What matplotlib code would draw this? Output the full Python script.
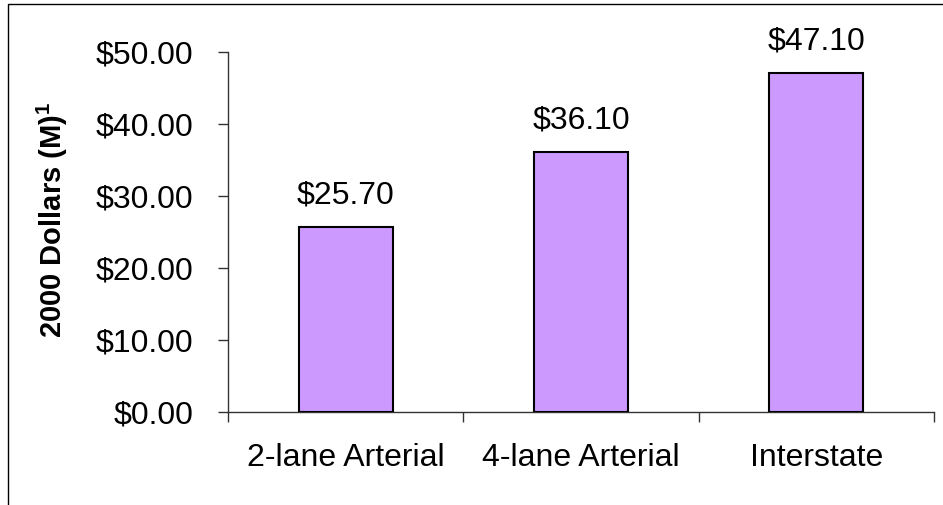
"""Bar chart: cost by road type, 2000 dollars (millions)."""

import matplotlib.pyplot as plt
from matplotlib.patches import Rectangle
from matplotlib.ticker import FixedLocator, FuncFormatter

plt.rcParams["font.family"] = ["Liberation Sans", "DejaVu Sans"]
plt.rcParams["mathtext.fontset"] = "custom"
plt.rcParams["mathtext.rm"] = "Liberation Sans"
plt.rcParams["mathtext.bf"] = "Liberation Sans:bold"

categories = ["2-lane Arterial", "4-lane Arterial", "Interstate"]
costs = [25.70, 36.10, 47.10]
y_ticks = [0, 10, 20, 30, 40, 50]

W, H = 943, 505
fig = plt.figure(figsize=(W / 100, H / 100), dpi=100)
ax = fig.add_axes([228 / W, 1 - 412 / H, (934 - 228) / W, (412 - 52) / H])

x = list(range(len(categories)))
ax.bar(x, costs, width=0.4, color="#CC99FF", edgecolor="black", linewidth=1.5, zorder=3)

for xi, v in zip(x, costs):
    ax.annotate(f"${v:.2f}", (xi, v), xytext=(0, 12), textcoords="offset points",
                ha="center", va="bottom", fontsize=23)

ax.set_xlim(-0.5, len(categories) - 0.5)
ax.set_ylim(0, 50)
ax.set_yticks(y_ticks)
ax.yaxis.set_major_formatter(FuncFormatter(lambda v, _: f"${v:.2f}"))

# ticks sit between categories, labels at the centres
ax.xaxis.set_major_locator(FixedLocator([i - 0.5 for i in range(len(categories) + 1)]))
ax.xaxis.set_major_formatter(FuncFormatter(lambda v, _: ""))
ax.xaxis.set_minor_locator(FixedLocator(x))
ax.set_xticklabels(categories, minor=True)
ax.tick_params(axis="x", which="minor", length=0, pad=22, labelsize=23)
ax.tick_params(axis="x", which="major", length=7, width=1, direction="out", color="#333333")
ax.tick_params(axis="y", length=7, width=1, direction="out", pad=18, labelsize=23,
               color="#333333")

for side in ("top", "right"):
    ax.spines[side].set_visible(False)
for side in ("left", "bottom"):
    ax.spines[side].set_color("#333333")
    ax.spines[side].set_linewidth(1)

ax.set_ylabel(r"2000 Dollars (M)$^{\mathbf{1}}$", fontsize=21, fontweight="bold")
ax.yaxis.set_label_coords((70 - 228) / 706, (412 - 220) / 360)

# outer frame, clipped on the right and bottom like the original
fig.patches.append(Rectangle((8 / W, -0.2), 1.2, 1 - 4 / H + 0.2, transform=fig.transFigure,
                             fill=False, edgecolor="black", linewidth=1))

fig.savefig("out.png", dpi=100)
